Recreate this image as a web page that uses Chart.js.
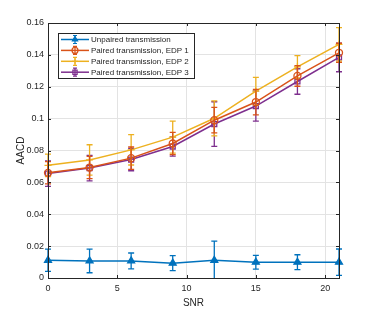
<!DOCTYPE html>
<html lang="en">
<head>
    <meta charset="UTF-8">
    <title>AACD vs SNR</title>
    <script src="https://cdn.jsdelivr.net/npm/chart.js"></script>
    <style>
        body { margin: 0; background: #ffffff; }
        #wrap { width: 374px; height: 313px; }
    </style>
</head>
<body>
    <div id="wrap"><canvas id="aacdChart" width="374" height="313"></canvas></div>

    <script>
        // data
        const snr = [0, 3, 6, 9, 12, 15, 18, 21];
        const seriesNames = ['Unpaired transmission', 'Paired transmission, EDP 1', 'Paired transmission, EDP 2', 'Paired transmission, EDP 3'];
        const unpaired    = [0.0111, 0.0107, 0.0107, 0.0093, 0.0111, 0.0099, 0.0099, 0.0099];
        const unpairedErr = [0.0070, 0.0074, 0.0050, 0.0047, 0.0120, 0.0043, 0.0047, 0.0083];
        const edp1    = [0.0660, 0.0693, 0.0752, 0.0844, 0.0990, 0.1104, 0.1268, 0.1413];
        const edp1Err = [0.0070, 0.0070, 0.0070, 0.0070, 0.0080, 0.0080, 0.0065, 0.0060];
        const edp2    = [0.0707, 0.0741, 0.0804, 0.0884, 0.1002, 0.1172, 0.1325, 0.1466];
        const edp2Err = [0.0070, 0.0095, 0.0095, 0.0100, 0.0110, 0.0087, 0.0070, 0.0105];
        const edp3    = [0.0655, 0.0690, 0.0743, 0.0825, 0.0966, 0.1079, 0.1233, 0.1384];
        const edp3Err = [0.0080, 0.0080, 0.0070, 0.0060, 0.0140, 0.0095, 0.0080, 0.0090];
        const xTicks = [0, 5, 10, 15, 20];
        const yTicks = [0, 0.02, 0.04, 0.06, 0.08, 0.1, 0.12, 0.14, 0.16];

        const colors = ['#0072BD', '#D95319', '#EDB120', '#7E2F8E'];
        const markers = ['triangle', 'circle', 'cross', 'rect'];
        const values = [unpaired, edp1, edp2, edp3];
        const errors = [unpairedErr, edp1Err, edp2Err, edp3Err];
        const axisColor = '#262626';

        const datasets = values.map((vals, i) => ({
            label: seriesNames[i],
            data: snr.map((x, j) => ({ x: x, y: vals[j] })),
            errs: errors[i],
            borderColor: colors[i],
            backgroundColor: colors[i],
            borderWidth: 1.5,
            pointStyle: markers[i],
            pointRadius: i === 0 ? 4 : 3.5,
            pointBorderWidth: 1.3,
            pointBackgroundColor: i === 0 ? colors[i] : 'rgba(0,0,0,0)',
            pointBorderColor: colors[i],
            tension: 0,
            clip: false
        }));

        // error bars, drawn right after each dataset so stacking order matches
        const errorBars = {
            id: 'errorBars',
            afterDatasetDraw(chart, args) {
                const ds = chart.data.datasets[args.index];
                const xs = chart.scales.x, ys = chart.scales.y;
                const area = chart.chartArea;
                const ctx = chart.ctx;
                ctx.save();
                ctx.beginPath();
                ctx.rect(area.left - 10, area.top, area.right - area.left + 20, area.bottom - area.top);
                ctx.clip();
                ctx.strokeStyle = ds.borderColor;
                ctx.lineWidth = 1.3;
                ds.data.forEach((p, j) => {
                    const px = xs.getPixelForValue(p.x);
                    const hi = ys.getPixelForValue(p.y + ds.errs[j]);
                    const lo = ys.getPixelForValue(p.y - ds.errs[j]);
                    ctx.beginPath();
                    ctx.moveTo(px, hi); ctx.lineTo(px, lo);
                    ctx.moveTo(px - 3, hi); ctx.lineTo(px + 3, hi);
                    ctx.moveTo(px - 3, lo); ctx.lineTo(px + 3, lo);
                    ctx.stroke();
                });
                ctx.restore();
            }
        };

        // matlab style box, inward ticks and legend
        const boxAndLegend = {
            id: 'boxAndLegend',
            afterDraw(chart) {
                const ctx = chart.ctx;
                const a = chart.chartArea;
                const xs = chart.scales.x, ys = chart.scales.y;
                ctx.save();
                ctx.strokeStyle = axisColor;
                ctx.lineWidth = 1;
                ctx.strokeRect(Math.round(a.left) + 0.5, Math.round(a.top) + 0.5,
                    Math.round(a.right - a.left), Math.round(a.bottom - a.top));
                ctx.beginPath();
                xTicks.forEach(v => {
                    const px = Math.round(xs.getPixelForValue(v)) + 0.5;
                    ctx.moveTo(px, a.bottom); ctx.lineTo(px, a.bottom - 3);
                    ctx.moveTo(px, a.top); ctx.lineTo(px, a.top + 3);
                });
                yTicks.forEach(v => {
                    const py = Math.round(ys.getPixelForValue(v)) + 0.5;
                    ctx.moveTo(a.left, py); ctx.lineTo(a.left + 3, py);
                    ctx.moveTo(a.right, py); ctx.lineTo(a.right - 3, py);
                });
                ctx.stroke();

                // legend box
                const lx = 58, ly = 33, lw = 136, lh = 45;
                ctx.fillStyle = '#ffffff';
                ctx.fillRect(lx, ly, lw, lh);
                ctx.strokeStyle = axisColor;
                ctx.strokeRect(lx + 0.5, ly + 0.5, lw, lh);
                ctx.font = '8px "Liberation Sans", Arial, sans-serif';
                ctx.textBaseline = 'middle';
                chart.data.datasets.forEach((ds, i) => {
                    const ry = ly + 6.5 + i * 10.9;
                    ctx.strokeStyle = ds.borderColor;
                    ctx.lineWidth = 1.5;
                    ctx.beginPath();
                    ctx.moveTo(lx + 3, ry); ctx.lineTo(lx + 31, ry);
                    ctx.stroke();
                    ctx.lineWidth = 1.2;
                    ctx.beginPath();
                    ctx.moveTo(lx + 17, ry - 4); ctx.lineTo(lx + 17, ry + 4);
                    ctx.moveTo(lx + 15, ry - 4); ctx.lineTo(lx + 19, ry - 4);
                    ctx.moveTo(lx + 15, ry + 4); ctx.lineTo(lx + 19, ry + 4);
                    ctx.stroke();
                    ctx.fillStyle = ds.pointBackgroundColor;
                    Chart.helpers.drawPoint(ctx, {
                        pointStyle: ds.pointStyle, radius: 3, borderWidth: 1.2, rotation: 0
                    }, lx + 17, ry);
                    ctx.fillStyle = axisColor;
                    ctx.fillText(ds.label, lx + 33, ry + 0.5);
                });
                ctx.restore();
            }
        };

        const tickFont = { family: '"Liberation Sans", Arial, sans-serif', size: 9 };

        new Chart(document.getElementById('aacdChart').getContext('2d'), {
            type: 'line',
            data: { datasets: datasets },
            options: {
                responsive: false,
                animation: false,
                devicePixelRatio: 1,
                layout: { padding: { top: 23, right: 35, left: 0, bottom: 0 } },
                plugins: { legend: { display: false }, tooltip: { enabled: false } },
                scales: {
                    x: {
                        type: 'linear',
                        min: 0, max: 21,
                        afterBuildTicks: s => { s.ticks = xTicks.map(v => ({ value: v })); },
                        afterFit: s => { s.height = 35; },
                        grid: { color: '#e3e3e3', drawTicks: false },
                        border: { display: false },
                        ticks: { color: axisColor, font: tickFont, padding: 5, maxRotation: 0 },
                        title: { display: true, text: 'SNR', color: axisColor,
                                 font: { family: tickFont.family, size: 10 }, padding: { top: 4, bottom: 4 } }
                    },
                    y: {
                        type: 'linear',
                        min: 0, max: 0.16,
                        afterBuildTicks: s => { s.ticks = yTicks.map(v => ({ value: v })); },
                        afterFit: s => { s.width = 48; },
                        grid: { color: '#e3e3e3', drawTicks: false },
                        border: { display: false },
                        ticks: { color: axisColor, font: tickFont, padding: 4,
                                 callback: v => String(+v.toFixed(3)) },
                        title: { display: true, text: 'AACD', color: axisColor,
                                 font: { family: tickFont.family, size: 10 }, padding: { top: 15, bottom: 0 } }
                    }
                }
            },
            plugins: [errorBars, boxAndLegend]
        });
    </script>
</body>
</html>
